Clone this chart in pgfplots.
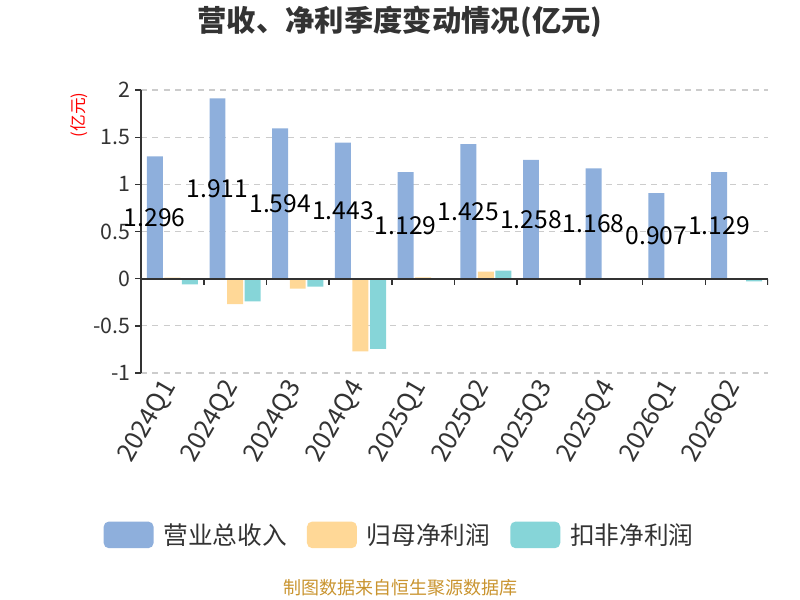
\documentclass[border=0pt]{standalone}
\usepackage{fontspec}
\setmainfont{Noto Sans CJK SC}
\usepackage{pgfplots}
\usepackage{pgfplotstable}
\pgfplotsset{compat=1.18}
\definecolor{cRev}{HTML}{8EAFDC}
\definecolor{cNp}{HTML}{FFD897}
\definecolor{cKnp}{HTML}{86D5D8}
\definecolor{cTick}{HTML}{333333}
\definecolor{cGrid}{HTML}{CCCCCC}
\definecolor{cFoot}{HTML}{C9942F}

\pgfplotstableread{
x rev np knp
0 1.296 0.012 -0.060
1 1.911 -0.270 -0.240
2 1.594 -0.105 -0.085
3 1.443 -0.770 -0.745
4 1.129 0.015 0.004
5 1.425 0.075 0.085
6 1.258 0.005 -0.003
7 1.168 0.004 0.003
8 0.907 0.004 0.002
9 1.129 -0.012 -0.028
}\datatable

\begin{document}
\begin{tikzpicture}
\useasboundingbox (0,0) rectangle (600pt,450pt);
\begin{axis}[
  at={(105.75pt,170.25pt)}, anchor=south west,
  scale only axis, width=470.25pt, height=212.25pt,
  xmin=-0.5, xmax=9.5, ymin=-1, ymax=2,
  ytick={-1,-0.5,0,0.5,1,1.5,2},
  xtick={0,...,9},
  xticklabels={2024Q1,2024Q2,2024Q3,2024Q4,2025Q1,2025Q2,2025Q3,2025Q4,2026Q1,2026Q2},
  axis y line*=left, axis x line*=bottom,
  x axis line style={draw=none},
  y axis line style={cTick, line width=1.2pt, -},
  xtick style={draw=none},
  ytick style={cTick, line width=1pt},
  tick align=outside, major tick length=4.5pt,
  /pgf/number format/assume math mode=true,
  ymajorgrids, grid style={cGrid, dash pattern=on 4.5pt off 4pt, line width=0.8pt},
  yticklabel style={font=\fontsize{16}{19}\selectfont, text=cTick},
  xticklabel style={font=\fontsize{19}{22}\selectfont, text=cTick, rotate=60, anchor=east},
  legend columns=3,
  legend style={at={(axis description cs:0.413,-0.572)}, anchor=center, draw=none,
    font=\fontsize{18.5}{22}\selectfont, text=cTick,
    /tikz/every even column/.append style={column sep=13pt},
    inner sep=0pt},
  legend image code/.code={\fill[#1, rounded corners=4pt] (0pt,-10pt) rectangle (37.5pt,10pt); \path (43pt,0pt);},
]
\addplot[ybar, bar width=0.255, bar shift=-0.28, fill=cRev, draw=none] table[x=x,y=rev]{\datatable};
\addlegendentry{营业总收入}
\addplot[ybar, bar width=0.255, bar shift=0, fill=cNp, draw=none] table[x=x,y=np]{\datatable};
\addlegendentry{归母净利润}
\addplot[ybar, bar width=0.255, bar shift=0.28, fill=cKnp, draw=none] table[x=x,y=knp]{\datatable};
\addlegendentry{扣非净利润}
\draw[cTick, line width=1.5pt] (axis cs:-0.5,0) -- (axis cs:9.5,0);
\pgfplotsinvokeforeach{0,...,10}{
  \draw[cTick, line width=1.2pt] (axis cs:#1-0.5,0) -- ([yshift=-4.5pt]axis cs:#1-0.5,0);
}
\addplot[only marks, mark=none, forget plot, point meta=explicit,
  nodes near coords={\pgfmathprintnumber[fixed,fixed zerofill,precision=3]{\pgfplotspointmeta}},
  nodes near coords style={anchor=center, font=\fontsize{18.5}{22}\selectfont, text=black}]
  table[x expr=\thisrow{x}-0.28, y expr=\thisrow{rev}/2, meta=rev]{\datatable};
\end{axis}
\node[font=\fontsize{22}{26}\selectfont\bfseries, text=cTick] at (300pt,434pt) {营收、净利季度变动情况(亿元)};
\node[rotate=90, text=red, font=\fontsize{12.5}{15}\selectfont] at (59pt,363.75pt) {(亿元)};
\node[text=cFoot, font=\fontsize{13.5}{16}\selectfont] at (300pt,9pt) {制图数据来自恒生聚源数据库};
\end{tikzpicture}
\end{document}
